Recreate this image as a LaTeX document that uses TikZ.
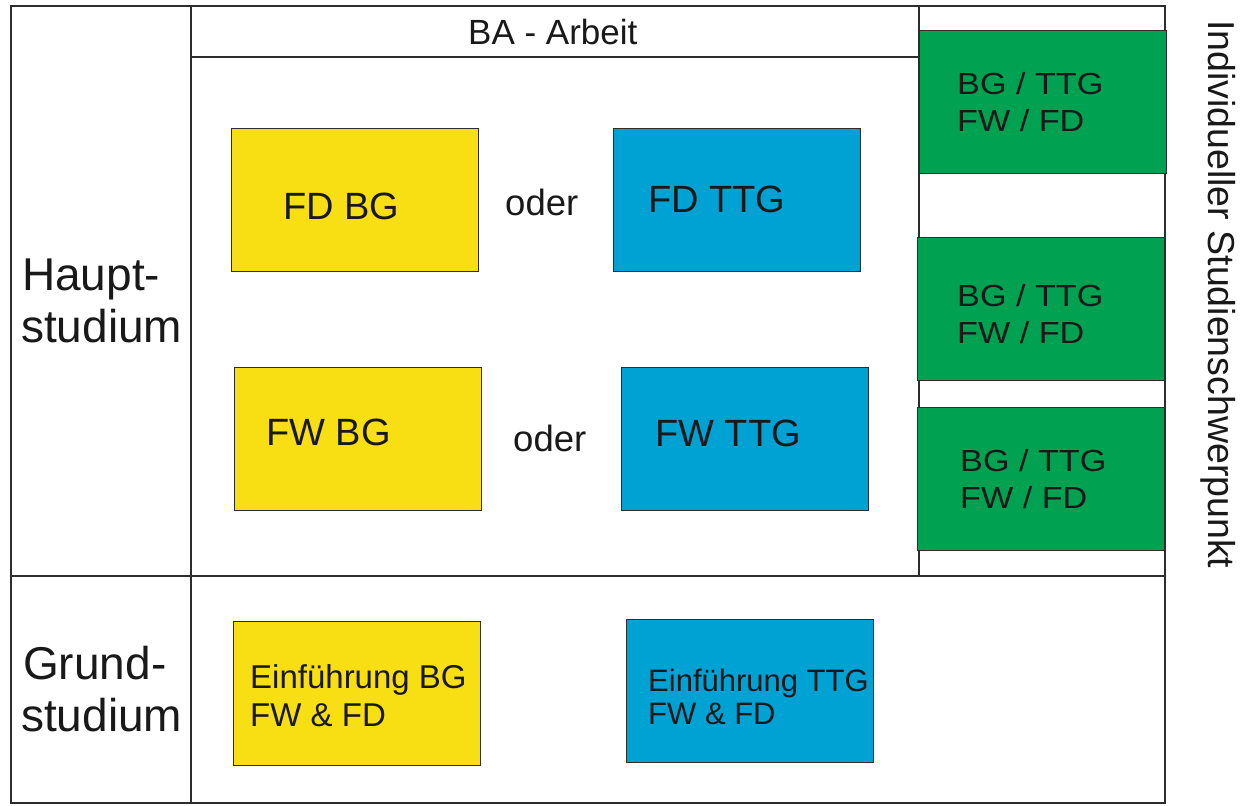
\documentclass[tikz,border=0pt]{standalone}
\usepackage{fontspec}
\setmainfont{Liberation Sans}
\newfontfamily\widefont[FakeStretch=1.12]{Liberation Sans}
\definecolor{byellow}{RGB}{248,223,20}
\definecolor{bblue}{RGB}{0,162,212}
\definecolor{bgreen}{RGB}{0,161,80}
\definecolor{lin}{RGB}{45,45,45}
\definecolor{txt}{RGB}{25,25,25}
\tikzset{
  frameline/.style={draw=lin,line width=1.8pt},
  boxbase/.style={draw=lin,line width=1.4pt,minimum width=247pt,minimum height=143pt,inner sep=0pt,anchor=north west},
  ybox/.style={boxbase,fill=byellow},
  bbox/.style={boxbase,fill=bblue},
  gbox/.style={boxbase,fill=bgreen},
  lbl/.style={anchor=base west,inner sep=0pt,text=txt},
  big/.style={lbl,font=\fontsize{46}{53}\selectfont},
  mid/.style={lbl,font=\fontsize{38}{44}\selectfont},
  grn/.style={lbl,font=\widefont\fontsize{30.5}{37}\selectfont},
}
\begin{document}
\begin{tikzpicture}[x=1pt,y=-1pt]
\useasboundingbox[fill=white] (0,0) rectangle (1246,805);
% table frame
\coordinate (tl) at (11,6);
\coordinate (br) at (1165,803);
\draw[frameline] (tl) rectangle (br);
\draw[frameline] (191,6) -- (191,803);
\draw[frameline] (11,576) -- (1165,576);
\draw[frameline] (919,6) -- (919,576);
\draw[frameline] (191,57) -- (919,57);
% BA row
\node[lbl,font=\fontsize{35}{40}\selectfont] (ba) at (468,45) {BA - Arbeit};
% row labels
\node[big] (haupt) at (22,290) {Haupt-};
\node[big] (hstud) at (21,342) {studium};
\node[big] (grund) at (23,679) {Grund-};
\node[big] (gstud) at (21,731) {studium};
% Hauptstudium boxes
\node[ybox] (fdbg) at (231,128) {};
\node[bbox] (fdttg) at (613,128) {};
\node[ybox] (fwbg) at (234,367) {};
\node[bbox] (fwttg) at (621,367) {};
\node[mid] (t1) at (283,219) {FD BG};
\node[mid] (t2) at (648,212) {FD TTG};
\node[mid] (t3) at (266,445) {FW BG};
\node[mid] (t4) at (655,446) {FW TTG};
\node[lbl,font=\fontsize{36.5}{42}\selectfont] (oder1) at (505,215) {oder};
\node[lbl,font=\fontsize{36.5}{42}\selectfont] (oder2) at (513,451) {oder};
% Grundstudium boxes
\node[ybox,minimum height=144pt] (ebg) at (233,621) {};
\node[bbox] (ettg) at (626,619) {};
\node[lbl,align=left,font=\fontsize{33}{38}\selectfont] (te1) at (250,726) {Einführung BG\\FW \& FD};
\node[lbl,align=left,font=\fontsize{31}{33}\selectfont] (te2) at (648,724) {Einführung TTG\\FW \& FD};
% green boxes
\node[gbox] (g1) at (919,30) {};
\node[gbox] (g2) at (917,237) {};
\node[gbox] (g3) at (917,407) {};
\node[grn,align=left] (tg1) at (957,132) {BG / TTG\\FW / FD};
\node[grn,align=left] (tg2) at (957,343) {BG / TTG\\FW / FD};
\node[grn,align=left] (tg3) at (960,508) {BG / TTG\\FW / FD};
% vertical label
\node[lbl,rotate=-90,font=\fontsize{37.5}{42}\selectfont] (isp) at (1208,20) {Individueller Studienschwerpunkt};
\end{tikzpicture}
\end{document}
